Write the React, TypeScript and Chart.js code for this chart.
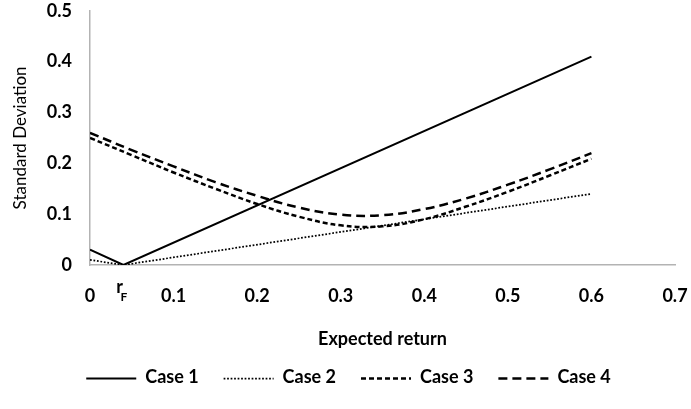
import React, { useEffect, useRef } from "react";
import { Chart, registerables } from "chart.js";

Chart.register(...registerables);

// Risk-free rate marked on the return axis
const RF = 0.04;

// Case 1 and Case 2: straight segments through the risk-free point
const case1X = [0, 0.04, 0.6];
const case1Y = [0.03, 0, 0.41];
const case2X = [0, 0.04, 0.6];
const case2Y = [0.01, 0, 0.14];

// Case 3 and Case 4: frontier curves
const curveX = [0, 0.05, 0.1, 0.15, 0.2, 0.25, 0.3, 0.35, 0.4, 0.45, 0.5, 0.55, 0.6];
const case3Y = [0.25, 0.216, 0.182, 0.15, 0.12, 0.095, 0.078, 0.076, 0.09, 0.115, 0.144, 0.176, 0.209];
const case4Y = [0.26, 0.226, 0.194, 0.163, 0.136, 0.113, 0.099, 0.098, 0.11, 0.131, 0.158, 0.188, 0.22];

const seriesNames = ["Case 1", "Case 2", "Case 3", "Case 4"];

const xTitle = "Expected return";
const yTitle = "Standard Deviation";

const FONT = "Lato, 'Open Sans', sans-serif";
const TICK_SIZE = 18;
const BOX_W = 50;
const LEGEND_SHIFT = 11;

const toPoints = (xs: number[], ys: number[]) => xs.map((x, i) => ({ x, y: ys[i] }));

// Nudges the legend row, draws its line samples and the r_F label under the axis
const extras = {
  id: "extras",
  afterLayout(chart: any) {
    const lg = chart.legend;
    if (lg) {
      lg.left += LEGEND_SHIFT;
      lg.right += LEGEND_SHIFT;
    }
  },
  afterDraw(chart: any) {
    const ctx = chart.ctx;
    const lg = chart.legend;
    if (lg && lg.legendHitBoxes) {
      lg.legendHitBoxes.forEach((hb: any, i: number) => {
        const item = lg.legendItems[i];
        const ds = chart.data.datasets[item.datasetIndex];
        ctx.save();
        ctx.strokeStyle = ds.borderColor;
        ctx.lineWidth = ds.borderWidth;
        ctx.setLineDash(ds.borderDash || []);
        const y = Math.round(hb.top + TICK_SIZE / 2) + 0.5;
        ctx.beginPath();
        ctx.moveTo(hb.left, y);
        ctx.lineTo(hb.left + BOX_W, y);
        ctx.stroke();
        ctx.restore();
      });
    }
    const xs = chart.scales.x;
    const px = xs.getPixelForValue(RF);
    const base = xs.top;
    ctx.save();
    ctx.fillStyle = "#000";
    ctx.textBaseline = "alphabetic";
    ctx.font = `bold ${TICK_SIZE}px ${FONT}`;
    ctx.textAlign = "right";
    ctx.fillText("r", px - 0.5, base + 28);
    ctx.font = `bold 12px ${FONT}`;
    ctx.textAlign = "left";
    ctx.fillText("F", px - 3, base + 36);
    ctx.restore();
  },
};

export default function App() {
  const ref = useRef<HTMLCanvasElement | null>(null);

  useEffect(() => {
    document.body.style.margin = "0";
    const canvas = ref.current;
    if (!canvas) return;

    const chart = new Chart(canvas, {
      type: "scatter",
      data: {
        datasets: [
          {
            label: seriesNames[0],
            data: toPoints(case1X, case1Y),
            showLine: true,
            borderColor: "#000",
            borderWidth: 2,
            pointRadius: 0,
            tension: 0,
          },
          {
            label: seriesNames[1],
            data: toPoints(case2X, case2Y),
            showLine: true,
            borderColor: "#000",
            borderWidth: 1.75,
            borderDash: [1.75, 1.75],
            pointRadius: 0,
            tension: 0,
          },
          {
            label: seriesNames[2],
            data: toPoints(curveX, case3Y),
            showLine: true,
            borderColor: "#000",
            borderWidth: 2.5,
            borderDash: [5, 3],
            pointRadius: 0,
            tension: 0.4,
          },
          {
            label: seriesNames[3],
            data: toPoints(curveX, case4Y),
            showLine: true,
            borderColor: "#000",
            borderWidth: 2.5,
            borderDash: [9, 5],
            pointRadius: 0,
            tension: 0.4,
          },
        ],
      },
      options: {
        responsive: false,
        animation: false,
        layout: { padding: { left: 0, right: 16, top: 10, bottom: 12.5 } },
        plugins: {
          tooltip: { enabled: false },
          legend: {
            position: "bottom",
            labels: {
              boxWidth: BOX_W,
              padding: 25,
              color: "#000",
              font: { family: FONT, size: TICK_SIZE, weight: "bold" },
              generateLabels: (c: any) =>
                Chart.defaults.plugins.legend.labels.generateLabels(c).map((l: any) => ({
                  ...l,
                  fillStyle: "rgba(0,0,0,0)",
                  strokeStyle: "rgba(0,0,0,0)",
                  lineWidth: 0,
                })),
            },
          },
        },
        scales: {
          x: {
            type: "linear",
            min: 0,
            max: 0.7,
            grid: { display: false, drawTicks: true, tickLength: 20, color: "rgba(0,0,0,0)" },
            border: { display: true, color: "#b3b3b3", width: 1.5 },
            ticks: {
              stepSize: 0.1,
              padding: 0,
              color: "#000",
              font: { family: FONT, size: TICK_SIZE, weight: "bold" },
              maxRotation: 0,
            },
            title: {
              display: true,
              text: xTitle,
              color: "#000",
              font: { family: FONT, size: TICK_SIZE, weight: "bold" },
              padding: { top: 0, bottom: -6 },
            },
            afterFit: (s: any) => {
              s.height = 78.5;
            },
          },
          y: {
            type: "linear",
            min: 0,
            max: 0.5,
            grid: { display: false, drawTicks: true, tickLength: 18, color: "rgba(0,0,0,0)" },
            border: { display: true, color: "#b3b3b3", width: 1.5 },
            ticks: {
              stepSize: 0.1,
              padding: 0,
              color: "#000",
              font: { family: FONT, size: TICK_SIZE, weight: "bold" },
            },
            title: {
              display: true,
              text: yTitle,
              color: "#000",
              font: { family: FONT, size: 17, weight: "normal" },
              padding: { top: 10, bottom: 0 },
            },
            afterFit: (s: any) => {
              s.width = 90;
            },
          },
        },
      },
      plugins: [extras],
    });

    return () => chart.destroy();
  }, []);

  return (
    <div style={{ width: 691, height: 409 }}>
      <canvas ref={ref} width={691} height={409} />
    </div>
  );
}
